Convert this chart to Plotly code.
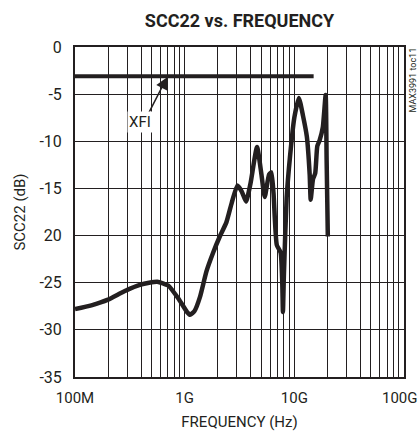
import plotly.graph_objects as go

# SCC22 curve (frequency in GHz, value in dB)
freq_ghz = [0.100, 0.141, 0.200, 0.282, 0.398, 0.562, 0.708, 0.891, 1.05, 1.12,
            1.23, 1.38, 1.58, 1.82, 2.09, 2.40, 2.69, 3.02, 3.31, 3.63,
            3.98, 4.57, 5.01, 5.37, 5.89, 6.17, 6.46, 6.92, 7.50, 7.76,
            7.87, 8.04, 8.51, 9.12, 10.0, 11.0, 12.0, 13.0, 13.8, 14.1,
            14.8, 15.5, 16.2, 17.0, 18.2, 19.3, 19.7, 20.2]
scc22_db = [-27.8, -27.4, -26.8, -25.9, -25.2, -24.9, -25.3, -26.8, -28.1, -28.4,
            -28.0, -26.5, -23.8, -21.8, -20.1, -18.6, -16.5, -14.7, -15.3, -16.4,
            -14.5, -10.6, -13.5, -15.9, -13.5, -13.3, -15.5, -21.0, -21.8, -25.0,
            -28.1, -24.0, -16.0, -11.7, -7.5, -5.4, -7.3, -9.5, -13.5, -16.2,
            -14.0, -13.4, -10.5, -9.9, -8.5, -5.1, -12.0, -20.1]

# XFI limit line
xfi_freq_ghz = [0.1, 15.0]
xfi_db = [-3.1, -3.1]

y_ticks = [0, -5, -10, -15, -20, -25, -30, -35]
y_tick_text = ["0", "-5", "-10", "-15", "20", "-25", "-30", "-35"]
x_decades = [1e8, 1e9, 1e10, 1e11]
x_decade_text = ["100M", "1G", "10G", "100G"]

FONT = "Roboto, Liberation Sans, sans-serif"
INK = "#231f20"

# last decade label is drawn as an annotation so it can hug the right edge
x_tickvals = []
x_ticktext = []
for d, lab in zip(x_decades[:-1], x_decade_text[:-1]):
    x_tickvals.append(d)
    x_ticktext.append(lab)
    for k in range(2, 10):
        x_tickvals.append(d * k)
        x_ticktext.append("")
x_tickvals.append(x_decades[-1])
x_ticktext.append("")

fig = go.Figure()
fig.add_trace(go.Scatter(x=[f * 1e9 for f in xfi_freq_ghz], y=xfi_db, mode="lines",
                         line=dict(color=INK, width=4), showlegend=False))
fig.add_trace(go.Scatter(x=[f * 1e9 for f in freq_ghz], y=scc22_db, mode="lines",
                         line=dict(color=INK, width=4.5, shape="spline", smoothing=0.5),
                         showlegend=False))

fig.update_layout(
    width=420, height=434,
    margin=dict(l=75, r=16, t=47, b=57, autoexpand=False),
    paper_bgcolor="white", plot_bgcolor="white",
    font=dict(family=FONT, size=15, color=INK),
    title=dict(text="<b>SCC22 vs. FREQUENCY</b>", x=0.5703, xanchor="center",
               y=0.952, yanchor="middle", font=dict(size=18, family=FONT)),
    annotations=[
        # arrow pointing at the XFI line
        dict(x=8.84, y=-3.2, xref="x", yref="y", text="", showarrow=True,
             arrowhead=2, arrowsize=1.6, arrowwidth=1.5, arrowcolor=INK,
             ax=-20, ay=39),
        # XFI label
        dict(x=8.84, y=-3.2, xref="x", yref="y", text="XFI", showarrow=False,
             xshift=-27, yshift=-45, font=dict(size=15, family=FONT), bgcolor="white"),
        dict(x=1.0, y=1.0, xref="paper", yref="paper", xanchor="left", yanchor="top",
             xshift=1, yshift=1, text="MAX3991 toc11", textangle=-90, showarrow=False,
             font=dict(size=9, family=FONT)),
        dict(x=1.0, y=0.0, xref="paper", yref="paper", xanchor="right", yanchor="middle",
             xshift=16, yshift=-21, text=x_decade_text[-1], showarrow=False,
             font=dict(size=15, family=FONT)),
    ],
)
fig.update_xaxes(type="log", range=[8, 11], tickvals=x_tickvals, ticktext=x_ticktext,
                 showgrid=True, gridcolor=INK, gridwidth=1, automargin=False,
                 showline=True, linecolor=INK, linewidth=2, mirror=True,
                 ticks="", ticklabelstandoff=6, ticklabeloverflow="allow",
                 title=dict(text="FREQUENCY (Hz)", standoff=10, font=dict(size=15)),
                 tickfont=dict(size=15))
fig.update_yaxes(range=[-35, 0], tickvals=y_ticks, ticktext=y_tick_text,
                 showgrid=True, gridcolor=INK, gridwidth=1, zeroline=False, automargin=False,
                 showline=True, linecolor=INK, linewidth=2, mirror=True,
                 ticks="", ticklabelstandoff=8, ticklabeloverflow="allow",
                 title=dict(text="SCC22 (dB)", standoff=10, font=dict(size=15)),
                 tickfont=dict(size=16))

fig.write_html("out.html", config={"displayModeBar": False},
               post_script="document.body.style.margin='0';document.body.style.overflow='hidden';")
